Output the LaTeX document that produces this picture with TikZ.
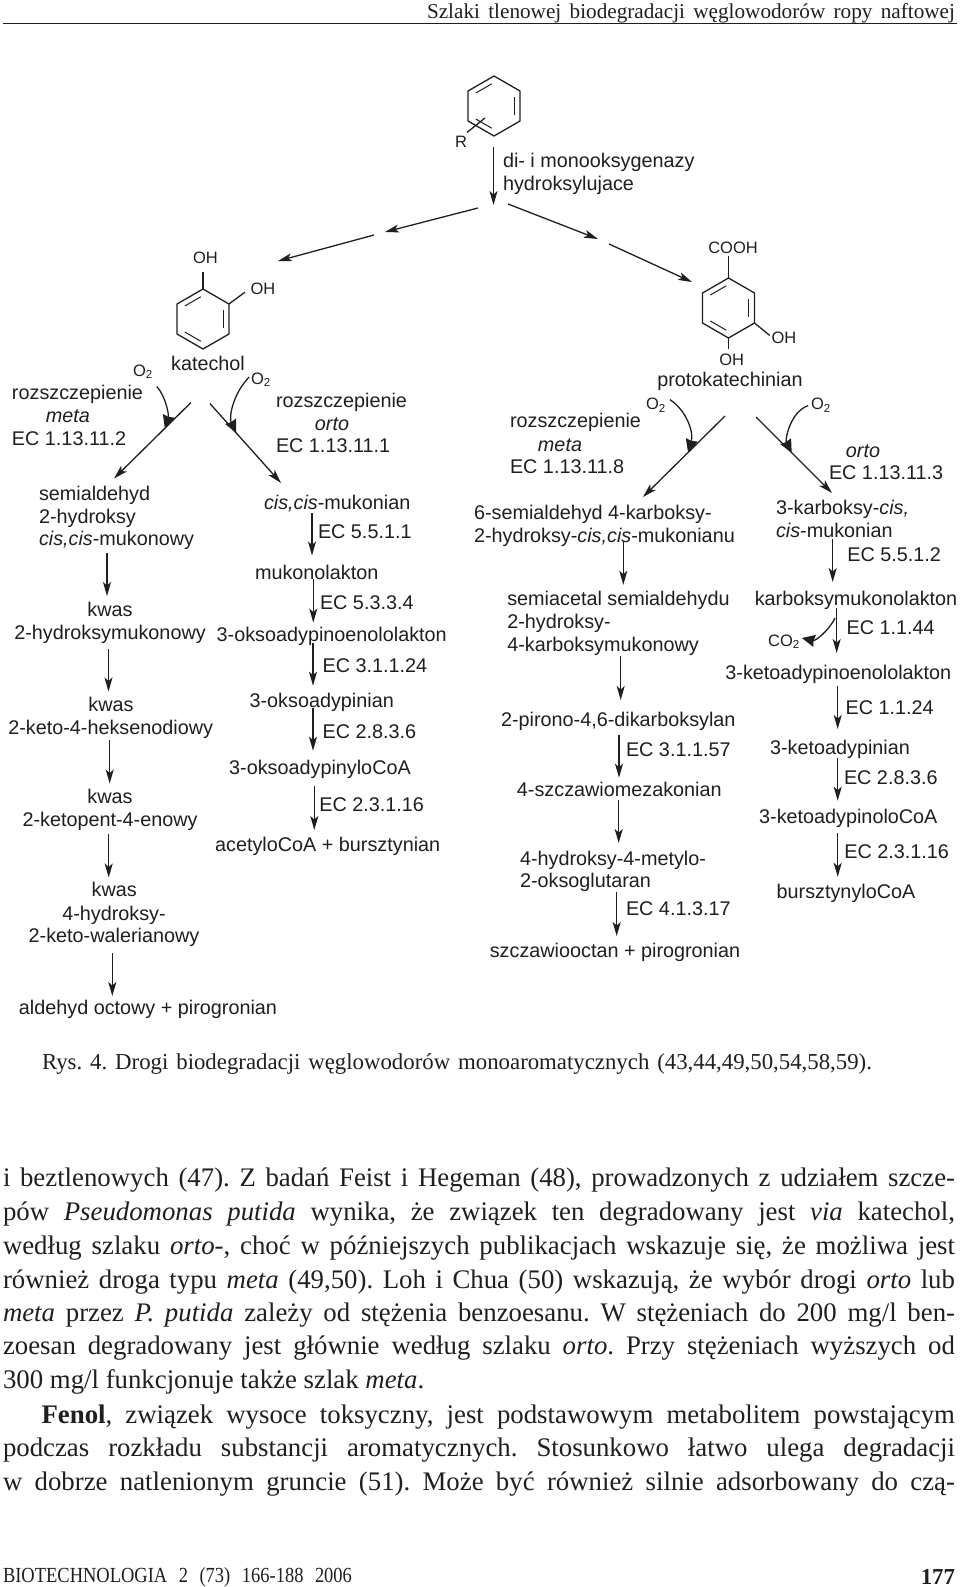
\documentclass[tikz,border=0pt]{standalone}
\usepackage{fontspec}
\setmainfont{Liberation Sans}
\newfontfamily\bookfont{Liberation Serif}
\newfontfamily\footfont[FakeStretch=0.86]{Liberation Serif}
\frenchspacing
\usetikzlibrary{arrows.meta, shapes.geometric}

\colorlet{ink}{black!88}
\tikzset{
    every node/.style = {inner sep = 0pt, outer sep = 0pt, text = ink},
    chem/.style = {font = \fontsize{19.8}{21}\selectfont, text height = 15pt, text depth = 2pt},
    chemw/.style = {chem, anchor = west},
    small/.style = {font = \fontsize{16.5}{20}\selectfont, text height = 14.5pt, text depth = 2.5pt},
    bookline/.style = {font = \bookfont\fontsize{26.8}{30}\selectfont, anchor = west, text height = 20pt, text depth = 4pt},
    captionline/.style = {font = \bookfont\fontsize{22.8}{26}\selectfont, anchor = west, text height = 18pt, text depth = 2pt},
    headline/.style = {font = \bookfont\fontsize{21.2}{26}\selectfont, anchor = east, text height = 18pt, text depth = 2pt},
    footline/.style = {font = \footfont\fontsize{21.5}{26}\selectfont, anchor = west, text height = 16pt, text depth = 4pt},
    ringout/.style = {regular polygon, regular polygon sides = 6, shape border rotate = 30, minimum size = 60pt, draw = ink},
    ringin/.style = {regular polygon, regular polygon sides = 6, shape border rotate = 30, minimum size = 47pt},
    bond/.style = {-, draw = ink},
    innerbond/.style = {-, draw = ink, line width = 1pt, shorten < = 2.5pt, shorten > = 2.5pt},
    oxflow/.style = {-{Stealth[length = 13pt, width = 12pt, inset = 1pt]}, draw = ink}
}
\newcommand{\chemring}[3]{
    \node[ringout]  (#1)   at (#2,#3) {};
    \node[ringin]   (#1in) at (#2,#3) {};
    \draw[innerbond] (#1in.150) -- (#1in.90);
    \draw[innerbond] (#1in.30)  -- (#1in.-30);
    \draw[innerbond] (#1in.210) -- (#1in.-90);
}

\begin{document}
\begin{tikzpicture}[->, > = {Stealth[length = 14pt, width = 8pt, inset = 3.5pt]}, x = 1pt, y = -1pt, line width = 1.3pt, draw = ink]
    \useasboundingbox (0,0) rectangle (960,1587);
    \fill[white] (0,0) rectangle (960,1587);

    \node[headline] (head) at (955,11) {\makebox[528pt][s]{Szlaki tlenowej biodegradacji węglowodorów ropy naftowej}};
    \coordinate (ruleL) at (3,23.8);
    \coordinate (ruleR) at (957,23.8);
    \draw[bond] (ruleL) -- (ruleR);

    \chemring{benzen}{494}{106}
    \node[small] (rsub)  at (461,141)   {R};
    \coordinate  (rcut)  at (485,118);
    \draw[bond]  (rsub.north east) -- (rcut);
    \node[chemw] (diox)  at (503,161)   {di- i monooksygenazy};
    \node[chemw] (hydr)  at (503,184)   {hydroksylujace};

    \coordinate (forkC)  at (493.5,205);
    \coordinate (forkL)  at (478,208);
    \coordinate (midLa)  at (385,232);
    \coordinate (midLb)  at (374,235);
    \coordinate (endL)   at (278,261);
    \coordinate (forkR)  at (508,204);
    \coordinate (midRa)  at (598,239);
    \coordinate (midRb)  at (609,244);
    \coordinate (endR)   at (692,282);
    \path (benzen.south -| forkC) edge[shorten < = 11pt] (forkC);
    \path (forkL) edge (midLa);
    \path (midLb) edge (endL);
    \path (forkR) edge (midRa);
    \path (midRb) edge (endR);

    \chemring{katring}{203}{319}
    \node[small] (ohKatA)    at (205.5,257) {OH};
    \node[small] (ohKatB)    at (263,288)   {OH};
    \draw[bond, shorten > = 6.5pt] (katring.north) -- (ohKatA.south -| katring.north);
    \draw[bond, shorten > = 7pt]   (katring.30)    -- (ohKatB.west);
    \node[chem]  (katechol)  at (208,364)   {katechol};
    \node[small] (o2KatL)    at (143,370)   {O\textsubscript{2}};
    \node[small] (o2KatR)    at (261,378)   {O\textsubscript{2}};

    \node[chemw] (rozKatL)   at (12,393)    {rozszczepienie};
    \node[chem]  (metaKat)   at (68,416)    {\textit{meta}};
    \node[chemw] (ecKatL)    at (12,438.6)  {EC 1.13.11.2};
    \node[chemw] (rozKatR)   at (276,401)   {rozszczepienie};
    \node[chem]  (ortoKat)   at (332,424)   {\textit{orto}};
    \node[chemw] (ecKatR)    at (276,446)   {EC 1.13.11.1};

    \node[chemw] (semiald)   at (39,494)    {semialdehyd};
    \node[chemw] (hydrox)    at (39,517)    {2-hydroksy};
    \node[chemw] (cisMukow)  at (39,539)    {\textit{cis,cis}-mukonowy};
    \node[chem]  (kwasA)     at (110,610)   {kwas};
    \node[chem]  (hydMuk)    at (110,633)   {2-hydroksymukonowy};
    \node[chem]  (kwasB)     at (111,704.6) {kwas};
    \node[chem]  (ketoHeks)  at (110.7,727.7) {2-keto-4-heksenodiowy};
    \node[chem]  (kwasC)     at (110,797)   {kwas};
    \node[chem]  (ketoPent)  at (110,820)   {2-ketopent-4-enowy};
    \node[chem]  (kwasD)     at (114.3,890) {kwas};
    \node[chem]  (hydroks)   at (114,913.6) {4-hydroksy-};
    \node[chem]  (ketoWal)   at (114,936)   {2-keto-walerianowy};
    \node[chem]  (aldehyd)   at (148,1008)  {aldehyd octowy + pirogronian};

    \node[chemw] (cisMukon)  at (264,503)   {\textit{cis,cis}-mukonian};
    \node[chemw] (ecA)       at (318,532)   {EC 5.5.1.1};
    \node[chem]  (mukono)    at (316.7,572.7) {mukonolakton};
    \node[chemw] (ecB)       at (320,602.7) {EC 5.3.3.4};
    \node[chem]  (oksoEnol)  at (331.7,634.7) {3-oksoadypinoenololakton};
    \node[chemw] (ecC)       at (322.7,665.7) {EC 3.1.1.24};
    \node[chem]  (oksoAdy)   at (321.7,701) {3-oksoadypinian};
    \node[chemw] (ecD)       at (322.7,731.8) {EC 2.8.3.6};
    \node[chem]  (oksoCoA)   at (320,768)   {3-oksoadypinyloCoA};
    \node[chemw] (ecE)       at (319.3,805) {EC 2.3.1.16};
    \node[chem]  (acetylo)   at (327.7,844.8) {acetyloCoA + bursztynian};

    \draw[->] ([shift = {(-17,30)}]katechol.south) -- coordinate[pos = 0.34] (hitKatL) ([shift = {(75,-7)}]semiald.north west);
    \draw[->] ([shift = {(2,31.1)}]katechol.south) -- coordinate[pos = 0.37] (hitKatR) ([shift = {(17,-11.5)}]cisMukon.north west);
    \draw[oxflow] ([shift = {(4,8)}]o2KatL.south east) .. controls (166,397) and (169,415) .. (hitKatL);
    \draw[oxflow] ([shift = {(-2,-1)}]o2KatR.west) .. controls (232,395) and (229,418) .. (hitKatR);

    \path (cisMukow.south -| 107,0)  edge[shorten < = 5.5pt, shorten > = 5.5pt]  (kwasA.north -| 107,0);
    \path (hydMuk.south -| 108.5,0)  edge[shorten < = 7pt, shorten > = 4.6pt]    (kwasB.north -| 108.5,0);
    \path (ketoHeks.south -| 109.7,0) edge[shorten < = 3.5pt, shorten > = 5pt]   (kwasC.north -| 109.7,0);
    \path (ketoPent.south -| 108.7,0) edge[shorten < = 5.9pt, shorten > = 4pt]   (kwasD.north -| 108.7,0);
    \path (ketoWal.south -| 112.3,0) edge[shorten < = 8.5pt, shorten > = 3.5pt]  (aldehyd.north -| 112.3,0);

    \path (cisMukon.south -| 312,0)  edge[shorten < = 1pt, shorten > = 8.7pt]    (mukono.north -| 312,0);
    \path (mukono.south -| 313.3,0)  edge[shorten < = -2.2pt, shorten > = 3.6pt] (oksoEnol.north -| 313.3,0);
    \path (oksoEnol.south -| 313,0)  edge[shorten < = -0.6pt, shorten > = 6.8pt] (oksoAdy.north -| 313,0);
    \path (oksoAdy.south -| 313,0)   edge[shorten < = -1.8pt, shorten > = 8.8pt] (oksoCoA.north -| 313,0);
    \path (oksoCoA.south -| 314.3,0) edge[shorten < = 9.5pt, shorten > = 6.3pt]  (acetylo.north -| 314.3,0);

    \chemring{protring}{728.5}{308}
    \node[small] (cooh)      at (733,247)   {COOH};
    \node[small] (ohProtA)   at (784,337)   {OH};
    \node[small] (ohProtB)   at (731.7,359) {OH};
    \draw[bond]  (protring.north) -- (cooh.south -| protring.north);
    \draw[bond, shorten > = 2.5pt] (protring.-30) -- (ohProtA.west);
    \draw[bond, shorten > = 1.5pt] (protring.south) -- (ohProtB.north -| protring.south);
    \node[chem]  (protokat)  at (730,380)   {protokatechinian};
    \node[small] (o2ProtL)   at (656,403.6) {O\textsubscript{2}};
    \node[small] (o2ProtR)   at (821,403.6) {O\textsubscript{2}};

    \node[chemw] (rozProt)   at (510,421.4) {rozszczepienie};
    \node[chem]  (metaProt)  at (560,444.6) {\textit{meta}};
    \node[chemw] (ecProtL)   at (510,466.8) {EC 1.13.11.8};
    \node[chem]  (ortoProt)  at (863,451)   {\textit{orto}};
    \node[chemw] (ecProtR)   at (829,473)   {EC 1.13.11.3};

    \node[chemw] (sixSemi)   at (474,513)   {6-semialdehyd 4-karboksy-};
    \node[chemw] (mukonianu) at (474,535.7) {2-hydroksy-\textit{cis,cis}-mukonianu};
    \node[chemw] (semiacet)  at (507.3,599) {semiacetal semialdehydu};
    \node[chemw] (hydroA)    at (507.3,622) {2-hydroksy-};
    \node[chemw] (karbMuk)   at (507.3,645) {4-karboksymukonowy};
    \node[chem]  (pirono)    at (618.3,719.8) {2-pirono-4,6-dikarboksylan};
    \node[chemw] (ecF)       at (626,750)   {EC 3.1.1.57};
    \node[chem]  (szczawio)  at (619.3,790) {4-szczawiomezakonian};
    \node[chemw] (hydrMet)   at (520,858.5) {4-hydroksy-4-metylo-};
    \node[chemw] (oksoGlu)   at (520,881)   {2-oksoglutaran};
    \node[chemw] (ecG)       at (626,908.5) {EC 4.1.3.17};
    \node[chem]  (szczawOct) at (615,950.5) {szczawiooctan + pirogronian};

    \node[chemw] (karbCis)   at (776,508)   {3-karboksy-\textit{cis,}};
    \node[chemw] (cisMukR)   at (776,531)   {\textit{cis}-mukonian};
    \node[chemw] (ecH)       at (847.3,554.8) {EC 5.5.1.2};
    \node[chem]  (karbLakt)  at (856,599)   {karboksymukonolakton};
    \node[chemw] (ecI)       at (846.7,627.8) {EC 1.1.44};
    \node[small] (co2)       at (784,640)   {CO\textsubscript{2}};
    \node[chem]  (ketoEnol)  at (838.3,673) {3-ketoadypinoenololakton};
    \node[chemw] (ecJ)       at (845.7,708) {EC 1.1.24};
    \node[chem]  (ketoAdy)   at (840,748)   {3-ketoadypinian};
    \node[chemw] (ecK)       at (844,777.6) {EC 2.8.3.6};
    \node[chem]  (ketoCoA)   at (848.3,817) {3-ketoadypinoloCoA};
    \node[chemw] (ecL)       at (844.3,852.3) {EC 2.3.1.16};
    \node[chem]  (bursztyn)  at (846,892.3) {bursztynyloCoA};

    \draw[->] ([shift = {(-5,27.5)}]protokat.south) -- coordinate[pos = 0.45] (hitProtL) ([shift = {(169,-7.5)}]sixSemi.north west);
    \draw[->] ([shift = {(26,28.5)}]protokat.south) -- coordinate[pos = 0.47] (hitProtR) ([shift = {(56,-6.5)}]karbCis.north west);
    \draw[oxflow] ([shift = {(4,-4)}]o2ProtL.east) .. controls (686,410) and (694,432) .. (hitProtL);
    \draw[oxflow] ([shift = {(-3,2)}]o2ProtR.west) .. controls (790,412) and (785,440) .. (hitProtR);
    \draw[oxflow] ([shift = {(-21,10.5)}]karbLakt.south) .. controls (828,632) and (815,641) .. ([shift = {(2,-2)}]co2.east);

    \path (mukonianu.south -| 623.3,0) edge[shorten < = -3.2pt, shorten > = 5.7pt] (semiacet.north -| 623.3,0);
    \path (karbMuk.south -| 620.7,0)  edge[shorten < = 2.9pt, shorten > = 11.3pt] (pirono.north -| 620.7,0);
    \path (pirono.south -| 619,0)     edge[shorten < = 6.3pt, shorten > = 3.9pt]  (szczawio.north -| 619,0);
    \path (szczawio.south -| 618.7,0) edge[shorten < = 1.5pt, shorten > = 7pt]    (hydrMet.north -| 618.7,0);
    \path (oksoGlu.south -| 616.7,0)  edge[shorten < = 2.5pt, shorten > = 6pt]    (szczawOct.north -| 616.7,0);

    \path (cisMukR.south -| 832.7,0)  edge[shorten < = -0.5pt, shorten > = 8.5pt] (karbLakt.north -| 832.7,0);
    \path (karbLakt.south -| 836.7,0) edge[shorten < = 0.5pt, shorten > = 11.5pt] (ketoEnol.north -| 836.7,0);
    \path (ketoEnol.south -| 837.7,0) edge[shorten < = 4.5pt, shorten > = 10.5pt] (ketoAdy.north -| 837.7,0);
    \path (ketoAdy.south -| 837.7,0)  edge[shorten < = 1.1pt, shorten > = 7.8pt]  (ketoCoA.north -| 837.7,0);
    \path (ketoCoA.south -| 837.7,0)  edge[shorten < = 7.9pt, shorten > = 7pt]    (bursztyn.north -| 837.7,0);

    \node[captionline] (rys) at (42,1061.7) {\makebox[830pt][s]{Rys. 4. Drogi biodegradacji węglowodorów monoaromatycznych (43,44,49,50,54,58,59).}};

    \node[bookline] (lineA) at (3,1178.3) {\makebox[952pt][s]{i beztlenowych (47). Z badań Feist i Hegeman (48), prowadzonych z udziałem szcze-}};
    \node[bookline] (lineB) at (3,1212.3) {\makebox[952pt][s]{pów \textit{Pseudomonas putida} wynika, że związek ten degradowany jest \textit{via} katechol,}};
    \node[bookline] (lineC) at (3,1246.7) {\makebox[952pt][s]{według szlaku \textit{orto-}, choć w późniejszych publikacjach wskazuje się, że możliwa jest}};
    \node[bookline] (lineD) at (3,1280)   {\makebox[952pt][s]{również droga typu \textit{meta} (49,50). Loh i Chua (50) wskazują, że wybór drogi \textit{orto} lub}};
    \node[bookline] (lineE) at (3,1313)   {\makebox[952pt][s]{\textit{meta} przez \textit{P. putida} zależy od stężenia benzoesanu. W stężeniach do 200 mg/l ben-}};
    \node[bookline] (lineF) at (3,1346.7) {\makebox[952pt][s]{zoesan degradowany jest głównie według szlaku \textit{orto}. Przy stężeniach wyższych od}};
    \node[bookline] (lineG) at (3,1380)   {300 mg/l funkcjonuje także szlak \textit{meta}.};
    \node[bookline] (lineH) at (41.6,1415) {\makebox[913.4pt][s]{\textbf{Fenol}, związek wysoce toksyczny, jest podstawowym metabolitem powstającym}};
    \node[bookline] (lineI) at (3,1448)   {\makebox[952pt][s]{podczas rozkładu substancji aromatycznych. Stosunkowo łatwo ulega degradacji}};
    \node[bookline] (lineJ) at (3,1482)   {\makebox[952pt][s]{w dobrze natlenionym gruncie (51). Może być również silnie adsorbowany do czą-}};

    \node[footline] (foot) at (3,1576) {\makebox[349pt][s]{BIOTECHNOLOGIA 2 (73) 166-188 2006}};
    \node[captionline, anchor = east] (page) at (955,1576) {\textbf{177}};
\end{tikzpicture}
\end{document}
